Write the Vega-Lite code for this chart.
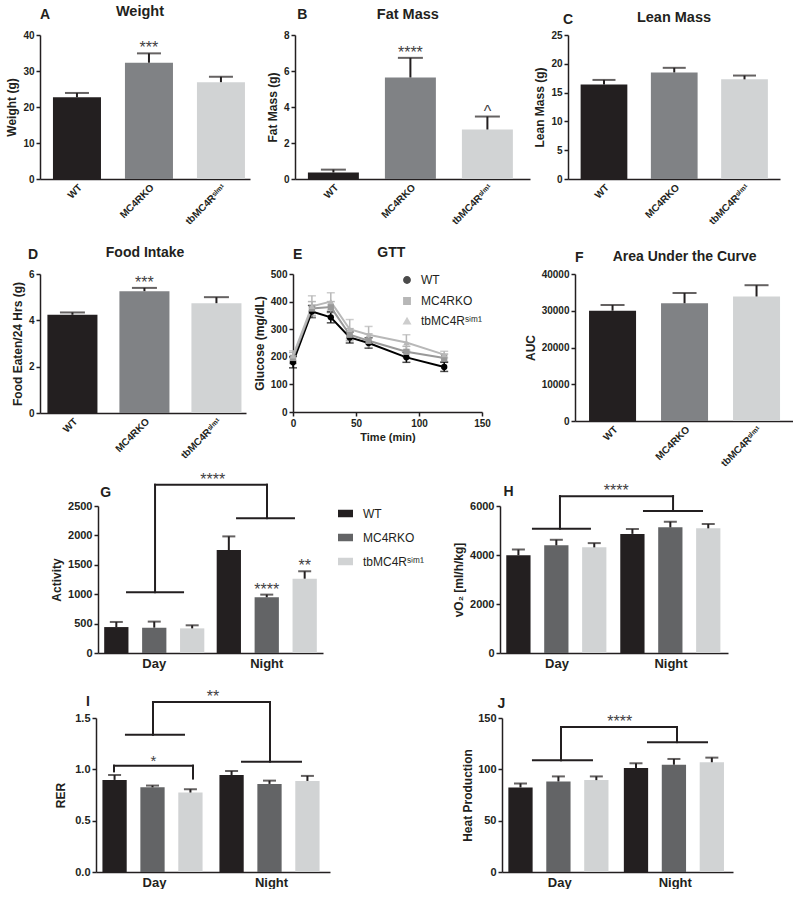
{
"$schema": "https://vega.github.io/schema/vega-lite/v6.json",
"background": "white",
"padding": {"left": 0, "top": 3, "right": 0, "bottom": 0},
"spacing": 0,
"resolve": {"scale": {"color": "independent", "shape": "independent"}, "legend": {"color": "independent", "shape": "independent"}},
"config": {
  "view": {"stroke": null},
  "font": "Liberation Sans",
  "axis": {"grid": false, "domainColor": "#231f20", "domainWidth": 1.5, "tickColor": "#231f20", "tickWidth": 1.5, "tickSize": 4, "labelFont": "Liberation Sans", "labelFontWeight": "bold", "labelColor": "#231f20", "labelFontSize": 10, "labelPadding": 2, "titleFont": "Liberation Sans", "titleFontWeight": "bold", "titleFontSize": 12, "titleColor": "#231f20", "titlePadding": 4, "labelOverlap": false, "labelFlush": false},
  "text": {"font": "Liberation Sans", "color": "#231f20"}
},
"vconcat": [
{
  "bounds": "flush", "spacing": 0,
  "resolve": {"scale": {"color": "independent"}, "legend": {"color": "independent"}},
  "hconcat": [
    {"width": 40, "height": 210, "mark": "point", "data": {"values": []}},
    {"width": 210, "height": 144,
     "layer": [
      {"data": {"values": [
        {"g": "WT", "v": 22.7, "top": 23.9, "sig": ""},
        {"g": "MC4RKO", "v": 32.3, "top": 34.9, "sig": "***"},
        {"g": "tbMC4Rˢⁱᵐ¹", "v": 26.9, "top": 28.4, "sig": ""}]},
       "encoding": {"x": {"field": "g", "type": "nominal", "sort": null, "scale": {"paddingInner": 0.333, "paddingOuter": 0.125, "align": 0.72}, "axis": {"title": null, "labelAngle": -45, "ticks": false, "labelPadding": 3}}},
       "layer": [
        {"mark": {"type": "bar"}, "encoding": {"y": {"field": "v", "type": "quantitative", "scale": {"domain": [0, 40], "nice": false}, "axis": {"title": "Weight (g)", "values": [0, 10, 20, 30, 40]}}, "color": {"field": "g", "type": "nominal", "scale": {"domain": ["WT", "MC4RKO", "tbMC4Rˢⁱᵐ¹"], "range": ["#231f20", "#808285", "#d1d3d4"]}, "legend": null}}},
        {"mark": {"type": "rule", "color": "#231f20", "strokeWidth": 2}, "encoding": {"y": {"field": "v", "type": "quantitative", "axis": {"title": "Weight (g)", "values": [0, 10, 20, 30, 40]}}, "y2": {"field": "top"}}},
        {"mark": {"type": "tick", "color": "#231f20", "thickness": 2, "size": 24}, "encoding": {"y": {"field": "top", "type": "quantitative", "axis": {"title": "Weight (g)", "values": [0, 10, 20, 30, 40]}}}},
        {"mark": {"type": "text", "baseline": "alphabetic", "fontSize": 16, "color": "#414042"}, "encoding": {"y": {"field": "top", "type": "quantitative", "axis": {"title": "Weight (g)", "values": [0, 10, 20, 30, 40]}}, "text": {"field": "sig"}}}
       ]},
      {"data": {"values": [{}]},
       "layer": [
        {"mark": {"type": "text", "align": "left", "baseline": "middle", "fontSize": 14, "fontWeight": "bold"}, "encoding": {"x": {"datum": 0, "type": "quantitative", "scale": {"domain": [0, 1]}, "axis": null}, "y": {"datum": 45.56, "type": "quantitative", "axis": {"title": "Weight (g)", "values": [0, 10, 20, 30, 40]}}, "text": {"value": "A"}}},
        {"mark": {"type": "text", "align": "center", "baseline": "middle", "fontSize": 14.5, "fontWeight": "bold"}, "encoding": {"x": {"datum": 0.476, "type": "quantitative", "axis": null}, "y": {"datum": 46.39, "type": "quantitative", "axis": {"title": "Weight (g)", "values": [0, 10, 20, 30, 40]}}, "text": {"value": "Weight"}}}
       ]}
     ],
     "resolve": {"scale": {"x": "independent"}}},
    {"width": 45, "height": 1, "mark": "point", "data": {"values": []}},
    {"width": 235, "height": 144,
     "layer": [
      {"data": {"values": [
        {"g": "WT", "v": 0.36, "top": 0.52, "sig": ""},
        {"g": "MC4RKO", "v": 5.64, "top": 6.73, "sig": "****"},
        {"g": "tbMC4Rˢⁱᵐ¹", "v": 2.75, "top": 3.47, "sig": "^"}]},
       "encoding": {"x": {"field": "g", "type": "nominal", "sort": null, "scale": {"paddingInner": 0.338, "paddingOuter": 0.195, "align": 0.43}, "axis": {"title": null, "labelAngle": -45, "ticks": false, "labelPadding": 3}}},
       "layer": [
        {"mark": {"type": "bar"}, "encoding": {"y": {"field": "v", "type": "quantitative", "scale": {"domain": [0, 8], "nice": false}, "axis": {"title": "Fat Mass (g)", "values": [0, 2, 4, 6, 8]}}, "color": {"field": "g", "type": "nominal", "scale": {"domain": ["WT", "MC4RKO", "tbMC4Rˢⁱᵐ¹"], "range": ["#231f20", "#808285", "#d1d3d4"]}, "legend": null}}},
        {"mark": {"type": "rule", "color": "#231f20", "strokeWidth": 2}, "encoding": {"y": {"field": "v", "type": "quantitative", "axis": {"title": "Fat Mass (g)", "values": [0, 2, 4, 6, 8]}}, "y2": {"field": "top"}}},
        {"mark": {"type": "tick", "color": "#231f20", "thickness": 2, "size": 25}, "encoding": {"y": {"field": "top", "type": "quantitative", "axis": {"title": "Fat Mass (g)", "values": [0, 2, 4, 6, 8]}}}},
        {"mark": {"type": "text", "baseline": "alphabetic", "fontSize": 16, "color": "#414042"}, "encoding": {"y": {"field": "top", "type": "quantitative", "axis": {"title": "Fat Mass (g)", "values": [0, 2, 4, 6, 8]}}, "text": {"field": "sig"}}}
       ]},
      {"data": {"values": [{}]},
       "layer": [
        {"mark": {"type": "text", "align": "left", "baseline": "middle", "fontSize": 14, "fontWeight": "bold"}, "encoding": {"x": {"datum": 0.01, "type": "quantitative", "scale": {"domain": [0, 1]}, "axis": null}, "y": {"datum": 9.11, "type": "quantitative", "axis": {"title": "Fat Mass (g)", "values": [0, 2, 4, 6, 8]}}, "text": {"value": "B"}}},
        {"mark": {"type": "text", "align": "center", "baseline": "middle", "fontSize": 14.5, "fontWeight": "bold"}, "encoding": {"x": {"datum": 0.48, "type": "quantitative", "axis": null}, "y": {"datum": 9.11, "type": "quantitative", "axis": {"title": "Fat Mass (g)", "values": [0, 2, 4, 6, 8]}}, "text": {"value": "Fat Mass"}}}
       ]}
     ],
     "resolve": {"scale": {"x": "independent"}}},
    {"width": 38, "height": 1, "mark": "point", "data": {"values": []}},
    {"width": 212, "height": 144,
     "layer": [
      {"data": {"values": [
        {"g": "WT", "v": 16.4, "top": 17.2},
        {"g": "MC4RKO", "v": 18.5, "top": 19.3},
        {"g": "tbMC4Rˢⁱᵐ¹", "v": 17.3, "top": 17.96}]},
       "encoding": {"x": {"field": "g", "type": "nominal", "sort": null, "scale": {"paddingInner": 0.335, "paddingOuter": 0.176, "align": 0.51}, "axis": {"title": null, "labelAngle": -45, "ticks": false, "labelPadding": 3}}},
       "layer": [
        {"mark": {"type": "bar"}, "encoding": {"y": {"field": "v", "type": "quantitative", "scale": {"domain": [0, 25], "nice": false}, "axis": {"title": "Lean Mass (g)", "values": [0, 5, 10, 15, 20, 25]}}, "color": {"field": "g", "type": "nominal", "scale": {"domain": ["WT", "MC4RKO", "tbMC4Rˢⁱᵐ¹"], "range": ["#231f20", "#808285", "#d1d3d4"]}, "legend": null}}},
        {"mark": {"type": "rule", "color": "#231f20", "strokeWidth": 2}, "encoding": {"y": {"field": "v", "type": "quantitative", "axis": {"title": "Lean Mass (g)", "values": [0, 5, 10, 15, 20, 25]}}, "y2": {"field": "top"}}},
        {"mark": {"type": "tick", "color": "#231f20", "thickness": 2, "size": 23}, "encoding": {"y": {"field": "top", "type": "quantitative", "axis": {"title": "Lean Mass (g)", "values": [0, 5, 10, 15, 20, 25]}}}}
       ]},
      {"data": {"values": [{}]},
       "layer": [
        {"mark": {"type": "text", "align": "left", "baseline": "middle", "fontSize": 14, "fontWeight": "bold"}, "encoding": {"x": {"datum": -0.024, "type": "quantitative", "scale": {"domain": [0, 1]}, "axis": null}, "y": {"datum": 27.6, "type": "quantitative", "axis": {"title": "Lean Mass (g)", "values": [0, 5, 10, 15, 20, 25]}}, "text": {"value": "C"}}},
        {"mark": {"type": "text", "align": "center", "baseline": "middle", "fontSize": 14.5, "fontWeight": "bold"}, "encoding": {"x": {"datum": 0.5, "type": "quantitative", "axis": null}, "y": {"datum": 27.9, "type": "quantitative", "axis": {"title": "Lean Mass (g)", "values": [0, 5, 10, 15, 20, 25]}}, "text": {"value": "Lean Mass"}}}
       ]}
     ],
     "resolve": {"scale": {"x": "independent"}}}
  ]
},
{
  "bounds": "flush", "spacing": 0,
  "resolve": {"scale": {"color": "independent", "shape": "independent"}, "legend": {"color": "independent", "shape": "independent"}},
  "hconcat": [
    {"width": 40, "height": 197, "mark": "point", "data": {"values": []}},
    {"width": 206, "height": 139,
     "layer": [
      {"data": {"values": [
        {"g": "WT", "v": 4.24, "top": 4.34, "sig": ""},
        {"g": "MC4RKO", "v": 5.26, "top": 5.40, "sig": "***"},
        {"g": "tbMC4Rˢⁱᵐ¹", "v": 4.74, "top": 5.0, "sig": ""}]},
       "encoding": {"x": {"field": "g", "type": "nominal", "sort": null, "scale": {"paddingInner": 0.305, "paddingOuter": 0.083, "align": 0.62}, "axis": {"title": null, "labelAngle": -45, "ticks": false, "labelPadding": 3}}},
       "layer": [
        {"mark": {"type": "bar"}, "encoding": {"y": {"field": "v", "type": "quantitative", "scale": {"domain": [0, 6], "nice": false}, "axis": {"title": "Food Eaten/24 Hrs (g)", "values": [0, 2, 4, 6]}}, "color": {"field": "g", "type": "nominal", "scale": {"domain": ["WT", "MC4RKO", "tbMC4Rˢⁱᵐ¹"], "range": ["#231f20", "#808285", "#d1d3d4"]}, "legend": null}}},
        {"mark": {"type": "rule", "color": "#231f20", "strokeWidth": 2}, "encoding": {"y": {"field": "v", "type": "quantitative", "axis": {"title": "Food Eaten/24 Hrs (g)", "values": [0, 2, 4, 6]}}, "y2": {"field": "top"}}},
        {"mark": {"type": "tick", "color": "#231f20", "thickness": 2, "size": 25}, "encoding": {"y": {"field": "top", "type": "quantitative", "axis": {"title": "Food Eaten/24 Hrs (g)", "values": [0, 2, 4, 6]}}}},
        {"mark": {"type": "text", "baseline": "alphabetic", "fontSize": 16, "color": "#414042"}, "encoding": {"y": {"field": "top", "type": "quantitative", "axis": {"title": "Food Eaten/24 Hrs (g)", "values": [0, 2, 4, 6]}}, "text": {"field": "sig"}}}
       ]},
      {"data": {"values": [{}]},
       "layer": [
        {"mark": {"type": "text", "align": "left", "baseline": "middle", "fontSize": 14, "fontWeight": "bold"}, "encoding": {"x": {"datum": -0.058, "type": "quantitative", "scale": {"domain": [0, 1]}, "axis": null}, "y": {"datum": 6.82, "type": "quantitative", "axis": {"title": "Food Eaten/24 Hrs (g)", "values": [0, 2, 4, 6]}}, "text": {"value": "D"}}},
        {"mark": {"type": "text", "align": "center", "baseline": "middle", "fontSize": 14, "fontWeight": "bold"}, "encoding": {"x": {"datum": 0.51, "type": "quantitative", "axis": null}, "y": {"datum": 6.92, "type": "quantitative", "axis": {"title": "Food Eaten/24 Hrs (g)", "values": [0, 2, 4, 6]}}, "text": {"value": "Food Intake"}}}
       ]}
     ],
     "resolve": {"scale": {"x": "independent"}}},
    {"width": 47, "height": 1, "mark": "point", "data": {"values": []}},
    {"width": 189, "height": 138,
     "layer": [
      {"data": {"values": [
        {"t": 0, "g": "WT", "v": 180, "lo": 160, "hi": 201},
        {"t": 15, "g": "WT", "v": 364, "lo": 342, "hi": 386},
        {"t": 30, "g": "WT", "v": 343, "lo": 323, "hi": 363},
        {"t": 45, "g": "WT", "v": 270, "lo": 250, "hi": 290},
        {"t": 60, "g": "WT", "v": 250, "lo": 231, "hi": 269},
        {"t": 90, "g": "WT", "v": 198, "lo": 180, "hi": 216},
        {"t": 120, "g": "WT", "v": 163, "lo": 147, "hi": 180},
        {"t": 0, "g": "MC4RKO", "v": 196, "lo": 176, "hi": 216},
        {"t": 15, "g": "MC4RKO", "v": 375, "lo": 350, "hi": 400},
        {"t": 30, "g": "MC4RKO", "v": 380, "lo": 360, "hi": 400},
        {"t": 45, "g": "MC4RKO", "v": 280, "lo": 258, "hi": 302},
        {"t": 60, "g": "MC4RKO", "v": 258, "lo": 233, "hi": 283},
        {"t": 90, "g": "MC4RKO", "v": 218, "lo": 198, "hi": 238},
        {"t": 120, "g": "MC4RKO", "v": 196, "lo": 182, "hi": 210},
        {"t": 0, "g": "tbMC4Rˢⁱᵐ¹", "v": 204, "lo": 184, "hi": 222},
        {"t": 15, "g": "tbMC4Rˢⁱᵐ¹", "v": 383, "lo": 345, "hi": 421},
        {"t": 30, "g": "tbMC4Rˢⁱᵐ¹", "v": 400, "lo": 368, "hi": 432},
        {"t": 45, "g": "tbMC4Rˢⁱᵐ¹", "v": 300, "lo": 265, "hi": 335},
        {"t": 60, "g": "tbMC4Rˢⁱᵐ¹", "v": 280, "lo": 250, "hi": 310},
        {"t": 90, "g": "tbMC4Rˢⁱᵐ¹", "v": 252, "lo": 224, "hi": 280},
        {"t": 120, "g": "tbMC4Rˢⁱᵐ¹", "v": 208, "lo": 196, "hi": 220}]},
       "encoding": {
         "x": {"field": "t", "type": "quantitative", "scale": {"domain": [0, 150], "nice": false}, "axis": {"title": "Time (min)", "values": [0, 50, 100, 150], "titleFontSize": 11, "titlePadding": 3}},
         "color": {"field": "g", "type": "nominal", "sort": null, "scale": {"domain": ["WT", "MC4RKO", "tbMC4Rˢⁱᵐ¹"], "range": ["#000000", "#999999", "#b8b8b8"]}, "legend": {"title": null, "orient": "top-right", "offset": 0, "padding": 0, "labelFontSize": 12, "labelFont": "Liberation Sans Narrow, Liberation Sans", "labelColor": "#231f20", "symbolSize": 40, "rowPadding": 7, "labelOffset": 8}}},
       "layer": [
        {"mark": {"type": "errorbar", "ticks": {"size": 8, "thickness": 1.5}, "thickness": 1.5}, "encoding": {"y": {"field": "lo", "type": "quantitative", "axis": {"title": "Glucose (mg/dL)", "values": [0, 100, 200, 300, 400, 500]}}, "y2": {"field": "hi"}}},
        {"mark": {"type": "line", "strokeWidth": 2}, "encoding": {"y": {"field": "v", "type": "quantitative", "scale": {"domain": [0, 500], "nice": false}, "axis": {"title": "Glucose (mg/dL)", "values": [0, 100, 200, 300, 400, 500]}}}},
        {"mark": {"type": "point", "filled": true, "size": 40, "opacity": 1}, "encoding": {"y": {"field": "v", "type": "quantitative", "axis": {"title": "Glucose (mg/dL)", "values": [0, 100, 200, 300, 400, 500]}}, "shape": {"field": "g", "type": "nominal", "sort": null, "scale": {"domain": ["WT", "MC4RKO", "tbMC4Rˢⁱᵐ¹"], "range": ["circle", "square", "triangle-up"]}, "legend": {"title": null, "orient": "top-right", "offset": 0, "padding": 0, "labelFontSize": 12, "labelFont": "Liberation Sans Narrow, Liberation Sans", "labelColor": "#231f20", "symbolSize": 40, "rowPadding": 7, "labelOffset": 8}}}}
       ]},
      {"data": {"values": [{}]},
       "layer": [
        {"mark": {"type": "text", "align": "left", "baseline": "middle", "fontSize": 14, "fontWeight": "bold"}, "encoding": {"x": {"datum": 0, "type": "quantitative", "axis": {"title": "Time (min)", "values": [0, 50, 100, 150], "titleFontSize": 11, "titlePadding": 3}}, "y": {"datum": 568.8, "type": "quantitative", "axis": {"title": "Glucose (mg/dL)", "values": [0, 100, 200, 300, 400, 500]}}, "text": {"value": "E"}}},
        {"mark": {"type": "text", "align": "center", "baseline": "middle", "fontSize": 14, "fontWeight": "bold"}, "encoding": {"x": {"datum": 78, "type": "quantitative", "axis": {"title": "Time (min)", "values": [0, 50, 100, 150], "titleFontSize": 11, "titlePadding": 3}}, "y": {"datum": 577, "type": "quantitative", "axis": {"title": "Glucose (mg/dL)", "values": [0, 100, 200, 300, 400, 500]}}, "text": {"value": "GTT"}}}
       ]}
     ]},
    {"width": 93, "height": 1, "mark": "point", "data": {"values": []}},
    {"width": 218, "height": 147,
     "layer": [
      {"data": {"values": [
        {"g": "WT", "v": 30000, "top": 31560},
        {"g": "MC4RKO", "v": 32040, "top": 34830},
        {"g": "tbMC4Rˢⁱᵐ¹", "v": 33880, "top": 36950}]},
       "encoding": {"x": {"field": "g", "type": "nominal", "sort": null, "scale": {"paddingInner": 0.347, "paddingOuter": 0.1875, "align": 0.52}, "axis": {"title": null, "labelAngle": -45, "ticks": false, "labelPadding": 3}}},
       "layer": [
        {"mark": {"type": "bar"}, "encoding": {"y": {"field": "v", "type": "quantitative", "scale": {"domain": [0, 40000], "nice": false}, "axis": {"title": "AUC", "values": [0, 10000, 20000, 30000, 40000], "format": "d"}}, "color": {"field": "g", "type": "nominal", "scale": {"domain": ["WT", "MC4RKO", "tbMC4Rˢⁱᵐ¹"], "range": ["#231f20", "#808285", "#d1d3d4"]}, "legend": null}}},
        {"mark": {"type": "rule", "color": "#231f20", "strokeWidth": 2}, "encoding": {"y": {"field": "v", "type": "quantitative", "axis": {"title": "AUC", "values": [0, 10000, 20000, 30000, 40000], "format": "d"}}, "y2": {"field": "top"}}},
        {"mark": {"type": "tick", "color": "#231f20", "thickness": 2, "size": 24}, "encoding": {"y": {"field": "top", "type": "quantitative", "axis": {"title": "AUC", "values": [0, 10000, 20000, 30000, 40000], "format": "d"}}}}
       ]},
      {"data": {"values": [{}]},
       "layer": [
        {"mark": {"type": "text", "align": "left", "baseline": "middle", "fontSize": 14, "fontWeight": "bold"}, "encoding": {"x": {"datum": 0, "type": "quantitative", "scale": {"domain": [0, 1]}, "axis": null}, "y": {"datum": 44272, "type": "quantitative", "axis": {"title": "AUC", "values": [0, 10000, 20000, 30000, 40000], "format": "d"}}, "text": {"value": "F"}}},
        {"mark": {"type": "text", "align": "center", "baseline": "middle", "fontSize": 14, "fontWeight": "bold"}, "encoding": {"x": {"datum": 0.503, "type": "quantitative", "axis": null}, "y": {"datum": 44544, "type": "quantitative", "axis": {"title": "AUC", "values": [0, 10000, 20000, 30000, 40000], "format": "d"}}, "text": {"value": "Area Under the Curve"}}}
       ]}
     ],
     "resolve": {"scale": {"x": "independent"}}}
  ]
},
{
  "bounds": "flush", "spacing": 0,
  "resolve": {"scale": {"color": "independent"}, "legend": {"color": "independent"}},
  "hconcat": [
    {"width": 98, "height": 183, "mark": "point", "data": {"values": []}},
    {"width": 225, "height": 147,
     "layer": [
      {"data": {"values": [
        {"p": "Day", "g": "WT", "v": 441, "top": 528, "sig": ""},
        {"p": "Day", "g": "MC4RKO", "v": 431, "top": 534, "sig": ""},
        {"p": "Day", "g": "tbMC4Rˢⁱᵐ¹", "v": 419, "top": 471, "sig": ""},
        {"p": "Night", "g": "WT", "v": 1752, "top": 1983, "sig": ""},
        {"p": "Night", "g": "MC4RKO", "v": 948, "top": 993, "sig": "****"},
        {"p": "Night", "g": "tbMC4Rˢⁱᵐ¹", "v": 1264, "top": 1390, "sig": "**"}]},
       "encoding": {
         "x": {"field": "p", "type": "nominal", "sort": null, "scale": {"paddingInner": 0.11, "paddingOuter": 0.055}, "axis": {"title": null, "labelAngle": 0, "ticks": false, "labelFontSize": 13, "labelPadding": 4}},
         "xOffset": {"field": "g", "type": "nominal", "sort": null, "scale": {"paddingInner": 0.36, "paddingOuter": 0}}},
       "layer": [
        {"mark": {"type": "bar"}, "encoding": {"y": {"field": "v", "type": "quantitative", "scale": {"domain": [0, 2500], "nice": false}, "axis": {"title": "Activity", "values": [0, 500, 1000, 1500, 2000, 2500], "format": "d", "labelFontSize": 11}}, "color": {"field": "g", "type": "nominal", "sort": null, "scale": {"domain": ["WT", "MC4RKO", "tbMC4Rˢⁱᵐ¹"], "range": ["#231f20", "#636466", "#d1d3d4"]}, "legend": {"title": null, "orient": "right", "offset": 15, "padding": 0, "symbolType": "M-1,-0.5H1V0.5H-1Z", "symbolSize": 225, "symbolStrokeWidth": 0, "labelFontSize": 12, "labelFont": "Liberation Sans", "labelColor": "#231f20", "rowPadding": 10, "labelOffset": 10}}}},
        {"mark": {"type": "rule", "color": "#231f20", "strokeWidth": 2}, "encoding": {"y": {"field": "v", "type": "quantitative", "axis": {"title": "Activity", "values": [0, 500, 1000, 1500, 2000, 2500], "format": "d", "labelFontSize": 11}}, "y2": {"field": "top"}}},
        {"mark": {"type": "tick", "color": "#231f20", "thickness": 2, "size": 13}, "encoding": {"y": {"field": "top", "type": "quantitative", "axis": {"title": "Activity", "values": [0, 500, 1000, 1500, 2000, 2500], "format": "d", "labelFontSize": 11}}}},
        {"mark": {"type": "text", "baseline": "alphabetic", "fontSize": 16, "color": "#414042"}, "encoding": {"y": {"field": "top", "type": "quantitative", "axis": {"title": "Activity", "values": [0, 500, 1000, 1500, 2000, 2500], "format": "d", "labelFontSize": 11}}, "text": {"field": "sig"}}}
       ]},
      {"data": {"values": [{}]},
       "encoding": {"y": {"type": "quantitative", "axis": {"title": "Activity", "values": [0, 500, 1000, 1500, 2000, 2500], "format": "d", "labelFontSize": 11}}},
       "layer": [
        {"mark": {"type": "text", "align": "left", "baseline": "middle", "fontSize": 14, "fontWeight": "bold"}, "encoding": {"x": {"datum": 0.02, "type": "quantitative", "scale": {"domain": [0, 2]}, "axis": null}, "y": {"datum": 2726, "type": "quantitative", "axis": {"title": "Activity", "values": [0, 500, 1000, 1500, 2000, 2500], "format": "d", "labelFontSize": 11}}, "text": {"value": "G"}}},
        {"mark": {"type": "rule", "color": "#231f20", "strokeWidth": 2, "strokeCap": "square"}, "encoding": {"x": {"datum": 0.258, "type": "quantitative", "axis": null}, "x2": {"datum": 0.756}, "y": {"datum": 1034, "type": "quantitative", "axis": {"title": "Activity", "values": [0, 500, 1000, 1500, 2000, 2500], "format": "d", "labelFontSize": 11}}}},
        {"mark": {"type": "rule", "color": "#231f20", "strokeWidth": 2, "strokeCap": "square"}, "encoding": {"x": {"datum": 0.507, "type": "quantitative", "axis": null}, "y": {"datum": 1034, "type": "quantitative", "axis": {"title": "Activity", "values": [0, 500, 1000, 1500, 2000, 2500], "format": "d", "labelFontSize": 11}}, "y2": {"datum": 2862}}},
        {"mark": {"type": "rule", "color": "#231f20", "strokeWidth": 2, "strokeCap": "square"}, "encoding": {"x": {"datum": 0.507, "type": "quantitative", "axis": null}, "x2": {"datum": 1.502}, "y": {"datum": 2862, "type": "quantitative", "axis": {"title": "Activity", "values": [0, 500, 1000, 1500, 2000, 2500], "format": "d", "labelFontSize": 11}}}},
        {"mark": {"type": "rule", "color": "#231f20", "strokeWidth": 2, "strokeCap": "square"}, "encoding": {"x": {"datum": 1.502, "type": "quantitative", "axis": null}, "y": {"datum": 2293, "type": "quantitative", "axis": {"title": "Activity", "values": [0, 500, 1000, 1500, 2000, 2500], "format": "d", "labelFontSize": 11}}, "y2": {"datum": 2862}}},
        {"mark": {"type": "rule", "color": "#231f20", "strokeWidth": 2, "strokeCap": "square"}, "encoding": {"x": {"datum": 1.236, "type": "quantitative", "axis": null}, "x2": {"datum": 1.742}, "y": {"datum": 2293, "type": "quantitative", "axis": {"title": "Activity", "values": [0, 500, 1000, 1500, 2000, 2500], "format": "d", "labelFontSize": 11}}}},
        {"mark": {"type": "text", "align": "center", "baseline": "alphabetic", "fontSize": 16, "color": "#414042"}, "encoding": {"x": {"datum": 1.02, "type": "quantitative", "axis": null}, "y": {"datum": 2862, "type": "quantitative", "axis": {"title": "Activity", "values": [0, 500, 1000, 1500, 2000, 2500], "format": "d", "labelFontSize": 11}}, "text": {"value": "****"}}}
       ]}
     ],
     "resolve": {"scale": {"x": "independent"}}},
    {"width": 177, "height": 1, "mark": "point", "data": {"values": []}},
    {"width": 228, "height": 147,
     "layer": [
      {"data": {"values": [
        {"p": "Day", "g": "WT", "v": 3990, "top": 4220},
        {"p": "Day", "g": "MC4RKO", "v": 4393, "top": 4621},
        {"p": "Day", "g": "tbMC4Rˢⁱᵐ¹", "v": 4312, "top": 4485},
        {"p": "Night", "g": "WT", "v": 4862, "top": 5064},
        {"p": "Night", "g": "MC4RKO", "v": 5128, "top": 5357},
        {"p": "Night", "g": "tbMC4Rˢⁱᵐ¹", "v": 5088, "top": 5265}]},
       "encoding": {
         "x": {"field": "p", "type": "nominal", "sort": null, "scale": {"paddingInner": 0.11, "paddingOuter": 0.055}, "axis": {"title": null, "labelAngle": 0, "ticks": false, "labelFontSize": 13, "labelPadding": 4}},
         "xOffset": {"field": "g", "type": "nominal", "sort": null, "scale": {"paddingInner": 0.36, "paddingOuter": 0}}},
       "layer": [
        {"mark": {"type": "bar"}, "encoding": {"y": {"field": "v", "type": "quantitative", "scale": {"domain": [0, 6000], "nice": false}, "axis": {"title": "vO₂ [ml/h/kg]", "values": [0, 2000, 4000, 6000], "format": "d", "labelFontSize": 11}}, "color": {"field": "g", "type": "nominal", "sort": null, "scale": {"domain": ["WT", "MC4RKO", "tbMC4Rˢⁱᵐ¹"], "range": ["#231f20", "#636466", "#d1d3d4"]}, "legend": null}}},
        {"mark": {"type": "rule", "color": "#231f20", "strokeWidth": 2}, "encoding": {"y": {"field": "v", "type": "quantitative", "axis": {"title": "vO₂ [ml/h/kg]", "values": [0, 2000, 4000, 6000], "format": "d", "labelFontSize": 11}}, "y2": {"field": "top"}}},
        {"mark": {"type": "tick", "color": "#231f20", "thickness": 2, "size": 13}, "encoding": {"y": {"field": "top", "type": "quantitative", "axis": {"title": "vO₂ [ml/h/kg]", "values": [0, 2000, 4000, 6000], "format": "d", "labelFontSize": 11}}}}
       ]},
      {"data": {"values": [{}]},
       "layer": [
        {"mark": {"type": "text", "align": "left", "baseline": "middle", "fontSize": 14, "fontWeight": "bold"}, "encoding": {"x": {"datum": 0.03, "type": "quantitative", "scale": {"domain": [0, 2]}, "axis": null}, "y": {"datum": 6584, "type": "quantitative", "axis": {"title": "vO₂ [ml/h/kg]", "values": [0, 2000, 4000, 6000], "format": "d", "labelFontSize": 11}}, "text": {"value": "H"}}},
        {"mark": {"type": "rule", "color": "#231f20", "strokeWidth": 2, "strokeCap": "square"}, "encoding": {"x": {"datum": 0.289, "type": "quantitative", "axis": null}, "x2": {"datum": 0.789}, "y": {"datum": 5074, "type": "quantitative", "axis": {"title": "vO₂ [ml/h/kg]", "values": [0, 2000, 4000, 6000], "format": "d", "labelFontSize": 11}}}},
        {"mark": {"type": "rule", "color": "#231f20", "strokeWidth": 2, "strokeCap": "square"}, "encoding": {"x": {"datum": 0.526, "type": "quantitative", "axis": null}, "y": {"datum": 5074, "type": "quantitative", "axis": {"title": "vO₂ [ml/h/kg]", "values": [0, 2000, 4000, 6000], "format": "d", "labelFontSize": 11}}, "y2": {"datum": 6403}}},
        {"mark": {"type": "rule", "color": "#231f20", "strokeWidth": 2, "strokeCap": "square"}, "encoding": {"x": {"datum": 0.526, "type": "quantitative", "axis": null}, "x2": {"datum": 1.518}, "y": {"datum": 6403, "type": "quantitative", "axis": {"title": "vO₂ [ml/h/kg]", "values": [0, 2000, 4000, 6000], "format": "d", "labelFontSize": 11}}}},
        {"mark": {"type": "rule", "color": "#231f20", "strokeWidth": 2, "strokeCap": "square"}, "encoding": {"x": {"datum": 1.518, "type": "quantitative", "axis": null}, "y": {"datum": 5799, "type": "quantitative", "axis": {"title": "vO₂ [ml/h/kg]", "values": [0, 2000, 4000, 6000], "format": "d", "labelFontSize": 11}}, "y2": {"datum": 6403}}},
        {"mark": {"type": "rule", "color": "#231f20", "strokeWidth": 2, "strokeCap": "square"}, "encoding": {"x": {"datum": 1.263, "type": "quantitative", "axis": null}, "x2": {"datum": 1.772}, "y": {"datum": 5799, "type": "quantitative", "axis": {"title": "vO₂ [ml/h/kg]", "values": [0, 2000, 4000, 6000], "format": "d", "labelFontSize": 11}}}},
        {"mark": {"type": "text", "align": "center", "baseline": "alphabetic", "fontSize": 16, "color": "#414042"}, "encoding": {"x": {"datum": 1.02, "type": "quantitative", "axis": null}, "y": {"datum": 6403, "type": "quantitative", "axis": {"title": "vO₂ [ml/h/kg]", "values": [0, 2000, 4000, 6000], "format": "d", "labelFontSize": 11}}, "text": {"value": "****"}}}
       ]}
     ],
     "resolve": {"scale": {"x": "independent"}}}
  ]
},
{
  "bounds": "flush", "spacing": 0,
  "resolve": {"scale": {"color": "independent"}, "legend": {"color": "independent"}},
  "hconcat": [
    {"width": 96, "height": 10, "mark": "point", "data": {"values": []}},
    {"width": 234, "height": 154,
     "layer": [
      {"data": {"values": [
        {"p": "Day", "g": "WT", "v": 0.897, "top": 0.945},
        {"p": "Day", "g": "MC4RKO", "v": 0.825, "top": 0.842},
        {"p": "Day", "g": "tbMC4Rˢⁱᵐ¹", "v": 0.774, "top": 0.806},
        {"p": "Night", "g": "WT", "v": 0.945, "top": 0.984},
        {"p": "Night", "g": "MC4RKO", "v": 0.858, "top": 0.89},
        {"p": "Night", "g": "tbMC4Rˢⁱᵐ¹", "v": 0.887, "top": 0.936}]},
       "encoding": {
         "x": {"field": "p", "type": "nominal", "sort": null, "scale": {"paddingInner": 0.11, "paddingOuter": 0.055}, "axis": {"title": null, "labelAngle": 0, "ticks": false, "labelFontSize": 13, "labelPadding": 4}},
         "xOffset": {"field": "g", "type": "nominal", "sort": null, "scale": {"paddingInner": 0.36, "paddingOuter": 0}}},
       "layer": [
        {"mark": {"type": "bar"}, "encoding": {"y": {"field": "v", "type": "quantitative", "scale": {"domain": [0, 1.5], "nice": false}, "axis": {"title": "RER", "values": [0, 0.5, 1, 1.5], "format": ".1f", "labelFontSize": 11, "titlePadding": 7}}, "color": {"field": "g", "type": "nominal", "sort": null, "scale": {"domain": ["WT", "MC4RKO", "tbMC4Rˢⁱᵐ¹"], "range": ["#231f20", "#636466", "#d1d3d4"]}, "legend": null}}},
        {"mark": {"type": "rule", "color": "#231f20", "strokeWidth": 2}, "encoding": {"y": {"field": "v", "type": "quantitative", "axis": {"title": "RER", "values": [0, 0.5, 1, 1.5], "format": ".1f", "labelFontSize": 11, "titlePadding": 7}}, "y2": {"field": "top"}}},
        {"mark": {"type": "tick", "color": "#231f20", "thickness": 2, "size": 13}, "encoding": {"y": {"field": "top", "type": "quantitative", "axis": {"title": "RER", "values": [0, 0.5, 1, 1.5], "format": ".1f", "labelFontSize": 11, "titlePadding": 7}}}}
       ]},
      {"data": {"values": [{}]},
       "layer": [
        {"mark": {"type": "text", "align": "left", "baseline": "middle", "fontSize": 14, "fontWeight": "bold"}, "encoding": {"x": {"datum": -0.085, "type": "quantitative", "scale": {"domain": [0, 2]}, "axis": null}, "y": {"datum": 1.654, "type": "quantitative", "axis": {"title": "RER", "values": [0, 0.5, 1, 1.5], "format": ".1f", "labelFontSize": 11, "titlePadding": 7}}, "text": {"value": "I"}}},
        {"mark": {"type": "rule", "color": "#231f20", "strokeWidth": 2, "strokeCap": "square"}, "encoding": {"x": {"datum": 0.256, "type": "quantitative", "axis": null}, "x2": {"datum": 0.752}, "y": {"datum": 1.336, "type": "quantitative", "axis": {"title": "RER", "values": [0, 0.5, 1, 1.5], "format": ".1f", "labelFontSize": 11, "titlePadding": 7}}}},
        {"mark": {"type": "rule", "color": "#231f20", "strokeWidth": 2, "strokeCap": "square"}, "encoding": {"x": {"datum": 0.487, "type": "quantitative", "axis": null}, "y": {"datum": 1.336, "type": "quantitative", "axis": {"title": "RER", "values": [0, 0.5, 1, 1.5], "format": ".1f", "labelFontSize": 11, "titlePadding": 7}}, "y2": {"datum": 1.655}}},
        {"mark": {"type": "rule", "color": "#231f20", "strokeWidth": 2, "strokeCap": "square"}, "encoding": {"x": {"datum": 0.487, "type": "quantitative", "axis": null}, "x2": {"datum": 1.487}, "y": {"datum": 1.655, "type": "quantitative", "axis": {"title": "RER", "values": [0, 0.5, 1, 1.5], "format": ".1f", "labelFontSize": 11, "titlePadding": 7}}}},
        {"mark": {"type": "rule", "color": "#231f20", "strokeWidth": 2, "strokeCap": "square"}, "encoding": {"x": {"datum": 1.487, "type": "quantitative", "axis": null}, "y": {"datum": 1.075, "type": "quantitative", "axis": {"title": "RER", "values": [0, 0.5, 1, 1.5], "format": ".1f", "labelFontSize": 11, "titlePadding": 7}}, "y2": {"datum": 1.655}}},
        {"mark": {"type": "rule", "color": "#231f20", "strokeWidth": 2, "strokeCap": "square"}, "encoding": {"x": {"datum": 1.248, "type": "quantitative", "axis": null}, "x2": {"datum": 1.752}, "y": {"datum": 1.075, "type": "quantitative", "axis": {"title": "RER", "values": [0, 0.5, 1, 1.5], "format": ".1f", "labelFontSize": 11, "titlePadding": 7}}}},
        {"mark": {"type": "text", "align": "center", "baseline": "alphabetic", "fontSize": 16, "color": "#414042"}, "encoding": {"x": {"datum": 1.0, "type": "quantitative", "axis": null}, "y": {"datum": 1.655, "type": "quantitative", "axis": {"title": "RER", "values": [0, 0.5, 1, 1.5], "format": ".1f", "labelFontSize": 11, "titlePadding": 7}}, "text": {"value": "**"}}},
        {"mark": {"type": "rule", "color": "#231f20", "strokeWidth": 2, "strokeCap": "square"}, "encoding": {"x": {"datum": 0.154, "type": "quantitative", "axis": null}, "x2": {"datum": 0.829}, "y": {"datum": 1.036, "type": "quantitative", "axis": {"title": "RER", "values": [0, 0.5, 1, 1.5], "format": ".1f", "labelFontSize": 11, "titlePadding": 7}}}},
        {"mark": {"type": "rule", "color": "#231f20", "strokeWidth": 2, "strokeCap": "square"}, "encoding": {"x": {"datum": 0.154, "type": "quantitative", "axis": null}, "y": {"datum": 0.98, "type": "quantitative", "axis": {"title": "RER", "values": [0, 0.5, 1, 1.5], "format": ".1f", "labelFontSize": 11, "titlePadding": 7}}, "y2": {"datum": 1.036}}},
        {"mark": {"type": "rule", "color": "#231f20", "strokeWidth": 2, "strokeCap": "square"}, "encoding": {"x": {"datum": 0.829, "type": "quantitative", "axis": null}, "y": {"datum": 0.91, "type": "quantitative", "axis": {"title": "RER", "values": [0, 0.5, 1, 1.5], "format": ".1f", "labelFontSize": 11, "titlePadding": 7}}, "y2": {"datum": 1.036}}},
        {"mark": {"type": "text", "align": "center", "baseline": "alphabetic", "fontSize": 15, "color": "#414042"}, "encoding": {"x": {"datum": 0.49, "type": "quantitative", "axis": null}, "y": {"datum": 1.036, "type": "quantitative", "axis": {"title": "RER", "values": [0, 0.5, 1, 1.5], "format": ".1f", "labelFontSize": 11, "titlePadding": 7}}, "text": {"value": "*"}}}
       ]}
     ],
     "resolve": {"scale": {"x": "independent"}}},
    {"width": 172, "height": 1, "mark": "point", "data": {"values": []}},
    {"width": 231, "height": 154,
     "layer": [
      {"data": {"values": [
        {"p": "Day", "g": "WT", "v": 82.4, "top": 86.3},
        {"p": "Day", "g": "MC4RKO", "v": 88.2, "top": 93.1},
        {"p": "Day", "g": "tbMC4Rˢⁱᵐ¹", "v": 89.5, "top": 93.1},
        {"p": "Night", "g": "WT", "v": 101.3, "top": 105.9},
        {"p": "Night", "g": "MC4RKO", "v": 104.5, "top": 110.1},
        {"p": "Night", "g": "tbMC4Rˢⁱᵐ¹", "v": 106.9, "top": 111.4}]},
       "encoding": {
         "x": {"field": "p", "type": "nominal", "sort": null, "scale": {"paddingInner": 0.11, "paddingOuter": 0.055}, "axis": {"title": null, "labelAngle": 0, "ticks": false, "labelFontSize": 13, "labelPadding": 4}},
         "xOffset": {"field": "g", "type": "nominal", "sort": null, "scale": {"paddingInner": 0.36, "paddingOuter": 0}}},
       "layer": [
        {"mark": {"type": "bar"}, "encoding": {"y": {"field": "v", "type": "quantitative", "scale": {"domain": [0, 150], "nice": false}, "axis": {"title": "Heat Production", "values": [0, 50, 100, 150], "labelFontSize": 11, "titlePadding": 3}}, "color": {"field": "g", "type": "nominal", "sort": null, "scale": {"domain": ["WT", "MC4RKO", "tbMC4Rˢⁱᵐ¹"], "range": ["#231f20", "#636466", "#d1d3d4"]}, "legend": null}}},
        {"mark": {"type": "rule", "color": "#231f20", "strokeWidth": 2}, "encoding": {"y": {"field": "v", "type": "quantitative", "axis": {"title": "Heat Production", "values": [0, 50, 100, 150], "labelFontSize": 11, "titlePadding": 3}}, "y2": {"field": "top"}}},
        {"mark": {"type": "tick", "color": "#231f20", "thickness": 2, "size": 13}, "encoding": {"y": {"field": "top", "type": "quantitative", "axis": {"title": "Heat Production", "values": [0, 50, 100, 150], "labelFontSize": 11, "titlePadding": 3}}}}
       ]},
      {"data": {"values": [{}]},
       "layer": [
        {"mark": {"type": "text", "align": "left", "baseline": "middle", "fontSize": 14, "fontWeight": "bold"}, "encoding": {"x": {"datum": -0.04, "type": "quantitative", "scale": {"domain": [0, 2]}, "axis": null}, "y": {"datum": 163.8, "type": "quantitative", "axis": {"title": "Heat Production", "values": [0, 50, 100, 150], "labelFontSize": 11, "titlePadding": 3}}, "text": {"value": "J"}}},
        {"mark": {"type": "rule", "color": "#231f20", "strokeWidth": 2, "strokeCap": "square"}, "encoding": {"x": {"datum": 0.268, "type": "quantitative", "axis": null}, "x2": {"datum": 0.779}, "y": {"datum": 108.8, "type": "quantitative", "axis": {"title": "Heat Production", "values": [0, 50, 100, 150], "labelFontSize": 11, "titlePadding": 3}}}},
        {"mark": {"type": "rule", "color": "#231f20", "strokeWidth": 2, "strokeCap": "square"}, "encoding": {"x": {"datum": 0.511, "type": "quantitative", "axis": null}, "y": {"datum": 108.8, "type": "quantitative", "axis": {"title": "Heat Production", "values": [0, 50, 100, 150], "labelFontSize": 11, "titlePadding": 3}}, "y2": {"datum": 141.2}}},
        {"mark": {"type": "rule", "color": "#231f20", "strokeWidth": 2, "strokeCap": "square"}, "encoding": {"x": {"datum": 0.511, "type": "quantitative", "axis": null}, "x2": {"datum": 1.515}, "y": {"datum": 141.2, "type": "quantitative", "axis": {"title": "Heat Production", "values": [0, 50, 100, 150], "labelFontSize": 11, "titlePadding": 3}}}},
        {"mark": {"type": "rule", "color": "#231f20", "strokeWidth": 2, "strokeCap": "square"}, "encoding": {"x": {"datum": 1.515, "type": "quantitative", "axis": null}, "y": {"datum": 126.5, "type": "quantitative", "axis": {"title": "Heat Production", "values": [0, 50, 100, 150], "labelFontSize": 11, "titlePadding": 3}}, "y2": {"datum": 141.2}}},
        {"mark": {"type": "rule", "color": "#231f20", "strokeWidth": 2, "strokeCap": "square"}, "encoding": {"x": {"datum": 1.264, "type": "quantitative", "axis": null}, "x2": {"datum": 1.775}, "y": {"datum": 126.5, "type": "quantitative", "axis": {"title": "Heat Production", "values": [0, 50, 100, 150], "labelFontSize": 11, "titlePadding": 3}}}},
        {"mark": {"type": "text", "align": "center", "baseline": "alphabetic", "fontSize": 16, "color": "#414042"}, "encoding": {"x": {"datum": 1.02, "type": "quantitative", "axis": null}, "y": {"datum": 141.2, "type": "quantitative", "axis": {"title": "Heat Production", "values": [0, 50, 100, 150], "labelFontSize": 11, "titlePadding": 3}}, "text": {"value": "****"}}}
       ]}
     ],
     "resolve": {"scale": {"x": "independent"}}}
  ]
}
]
}
